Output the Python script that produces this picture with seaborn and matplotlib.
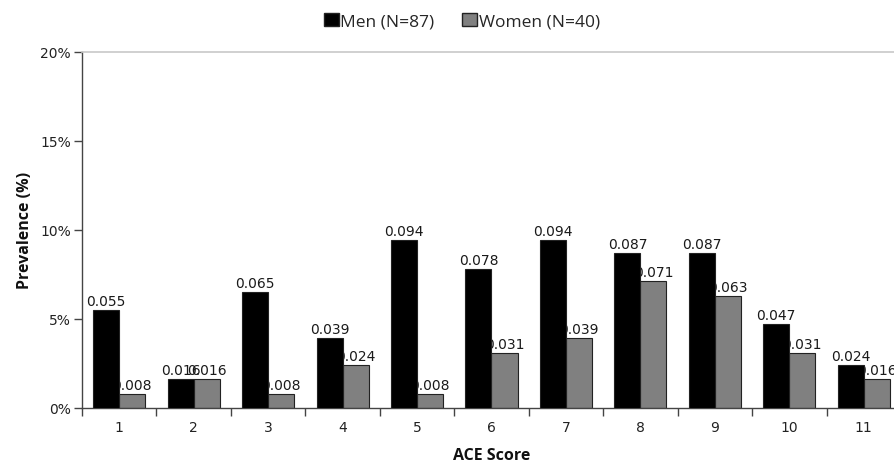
import matplotlib
matplotlib.use("Agg")
import matplotlib.pyplot as plt
import seaborn as sns
import pandas as pd
from matplotlib.ticker import PercentFormatter, FixedLocator
from matplotlib.patches import Patch

categories = ["1", "2", "3", "4", "5", "6", "7", "8", "9", "10", "11"]
men = [0.055, 0.016, 0.065, 0.039, 0.094, 0.078, 0.094, 0.087, 0.087, 0.047, 0.024]
women = [0.008, 0.016, 0.008, 0.024, 0.008, 0.031, 0.039, 0.071, 0.063, 0.031, 0.016]
series = ["Men (N=87)", "Women (N=40)"]
colors = ["#000000", "#808080"]

df = pd.DataFrame({
    "ACE Score": categories * 2,
    "Prevalence": men + women,
    "Group": [series[0]] * len(categories) + [series[1]] * len(categories),
})

sns.set_style("white")
plt.rcParams["font.family"] = ["DejaVu Sans"]

fig = plt.figure(figsize=(8.95, 4.77), dpi=100)
ax = fig.add_axes([82 / 895, 1 - 409 / 477, (901 - 82) / 895, (409 - 52.5) / 477])

sns.barplot(data=df, x="ACE Score", y="Prevalence", hue="Group", order=categories,
            hue_order=series, palette=colors, width=0.7, ax=ax, legend=False,
            edgecolor="#222222", linewidth=0.8, saturation=1)

label_color = "#1a1a1a"
for i, cont in enumerate(ax.containers):
    for p in cont.patches:
        p.set_zorder(3 if i == 0 else 2)
    vals = men if i == 0 else women
    for p, v in zip(cont.patches, vals):
        ax.annotate(f"{v:.3f}", (p.get_x() + p.get_width() / 2, p.get_height()),
                    xytext=(0, 1.5), textcoords="offset points", ha="center", va="bottom",
                    fontsize=10, color=label_color, zorder=4 if i == 0 else 1.5,
                    annotation_clip=False)

ax.set_ylim(0, 0.20)
ax.set_xlim(-0.5, len(categories) - 0.5)
ax.yaxis.set_major_locator(FixedLocator([0, 0.05, 0.10, 0.15, 0.20]))
ax.yaxis.set_major_formatter(PercentFormatter(1.0, decimals=0))

ax.set_xticks(range(len(categories)))
ax.set_xticklabels(categories)
ax.set_xticks([k - 0.5 for k in range(len(categories) + 1)], minor=True)
ax.tick_params(axis="x", which="major", length=0, pad=9, labelsize=10, labelcolor="#222222")
ax.tick_params(axis="x", which="minor", length=6, width=1, color="#444444", direction="out",
               bottom=True)
ax.tick_params(axis="y", which="major", length=6, width=1, color="#444444", direction="out",
               left=True, labelsize=10, labelcolor="#222222", pad=2)

for s in ["left", "bottom"]:
    ax.spines[s].set_color("#444444")
    ax.spines[s].set_linewidth(1)
ax.spines["top"].set_color("#c8c8c8")
ax.spines["top"].set_linewidth(1.2)
ax.spines["right"].set_visible(False)

ax.set_xlabel("ACE Score", fontsize=11.5, fontweight="bold", family=["Open Sans", "DejaVu Sans"],
              labelpad=9, color="#111111")
ax.set_ylabel("Prevalence (%)", fontsize=11.5, fontweight="bold", family=["Open Sans", "DejaVu Sans"],
              labelpad=5, color="#111111")

handles = [Patch(facecolor=colors[0], edgecolor="#222222"),
           Patch(facecolor=colors[1], edgecolor="#222222")]
fig.legend(handles, series, loc="center", bbox_to_anchor=(462 / 895, 1 - 22 / 477), ncol=2,
           frameon=False, handlelength=0.85, handleheight=0.85, handletextpad=0.1,
           columnspacing=1.6, prop={"family": ["Open Sans", "DejaVu Sans"], "size": 12.5})

fig.savefig("out.png", dpi=100)
